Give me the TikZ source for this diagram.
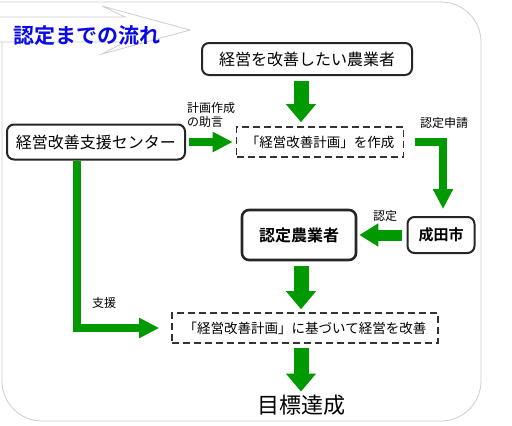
\documentclass[tikz,border=0pt]{standalone}
\usepackage{fontspec}
\setmainfont{Noto Sans CJK JP}[BoldFont={Noto Sans CJK JP Bold}]
\usetikzlibrary{arrows.meta}
\usetikzlibrary{positioning}
\definecolor{flowgreen}{RGB}{0,153,0}
\definecolor{titleblue}{RGB}{10,10,230}
\definecolor{framegray}{RGB}{205,205,210}
\tikzset{
    actor/.style={
           rectangle,
           rounded corners=7pt,
           draw=black!85, line width=2pt,
           inner sep=0pt,
           text centered,
           font=\fontsize{16}{19}\selectfont,
           },
    plan/.style={
           rectangle,
           draw=black!80, line width=1.6pt,
           dash pattern=on 7pt off 4pt,
           inner sep=0pt,
           font=\fontsize{13.5}{16}\selectfont,
           },
    bigarrow/.style={
           draw=flowgreen, line width=15pt,
           -{Triangle[width=29pt,length=18pt]},
           },
    midarrow/.style={
           draw=flowgreen, line width=11pt,
           -{Triangle[width=22pt,length=19pt]},
           },
    thinarrow/.style={
           draw=flowgreen, line width=8pt,
           -{Triangle[width=19pt,length=20pt]},
           },
    note/.style={
           font=\fontsize{12}{14}\selectfont,
           inner sep=0pt,
           },
}

\begin{document}
\begin{tikzpicture}[x=1pt,y=-1pt]
  \useasboundingbox (0,0) rectangle (512,426);
  % frame and title banner
  \draw[framegray, line width=0.8pt, rounded corners=40pt]
    (2,42) -- (2,421) -- (481,421) -- (481,2) -- (0,2);
  \draw[framegray, line width=0.8pt, fill=white]
    (0,17) -- (125,17) -- (102,6) -- (190,30) -- (102,54) -- (125,42) -- (0,42);
  \node[font=\bfseries\fontsize{21}{24}\selectfont,
 text=titleblue,
 inner sep=0pt] (title) at (87,36) {認定までの流れ};

  \node[actor,
 minimum width=210pt,
 minimum height=32pt] (farmer) at (307,59)
 {経営を改善したい農業者};
  \node[actor,
 minimum width=178pt,
 minimum height=35pt] (center) at (96,142)
 {経営改善支援センター};
  \node[plan,
 minimum width=167pt,
 minimum height=30pt] (makeplan) at (320,142)
 {「経営改善計画」を作成};
  \node[actor,
 minimum width=67pt,
 minimum height=36pt,
 font=\bfseries\fontsize{15}{18}\selectfont] (narita) at (441,235)
 {成田市};
  \node[actor,
 line width=2.6pt,
 minimum width=114pt,
 minimum height=50pt,
 font=\bfseries\fontsize{16}{19}\selectfont] (nintei) at (299,235)
 {認定農業者};
  \node[plan,
 minimum width=266pt,
 minimum height=30pt] (doplan) at (305,328)
 {「経営改善計画」に基づいて経営を改善};
  \node[font=\fontsize{22}{26}\selectfont,
 inner sep=0pt] (goal) at (301,405)
 {目標達成};

  % labels
  \node[note, align=left, anchor=north west] (advice) at (187,102) {計画作成\\の助言};
  \node[note] (apply) at (444,123) {認定申請};
  \node[note] (approve) at (385,216) {認定};
  \node[note] (support) at (104,303) {支援};

  % arrows
  \draw[bigarrow, shorten <=5pt, shorten >=4pt] (farmer.south -| goal) -- (makeplan.north -| goal);
  \draw[bigarrow, shorten <=5pt, shorten >=3pt] (nintei.south -| goal) -- (doplan.north -| goal);
  \draw[bigarrow, shorten <=4pt, shorten >=3pt] (doplan.south -| goal) -- (goal.north);
  \draw[thinarrow, shorten <=3pt, shorten >=3pt] (center) -- (makeplan);
  \draw[thinarrow, shorten <=11pt, shorten >=7pt] (makeplan.east) -| ([xshift=2pt]narita.north);
  \draw[midarrow, shorten <=5pt, shorten >=2pt] (narita) -- (nintei);
  \draw[thinarrow, shorten >=12pt] ([xshift=-19pt]center.south) |- (doplan.west);
\end{tikzpicture}
\end{document}
